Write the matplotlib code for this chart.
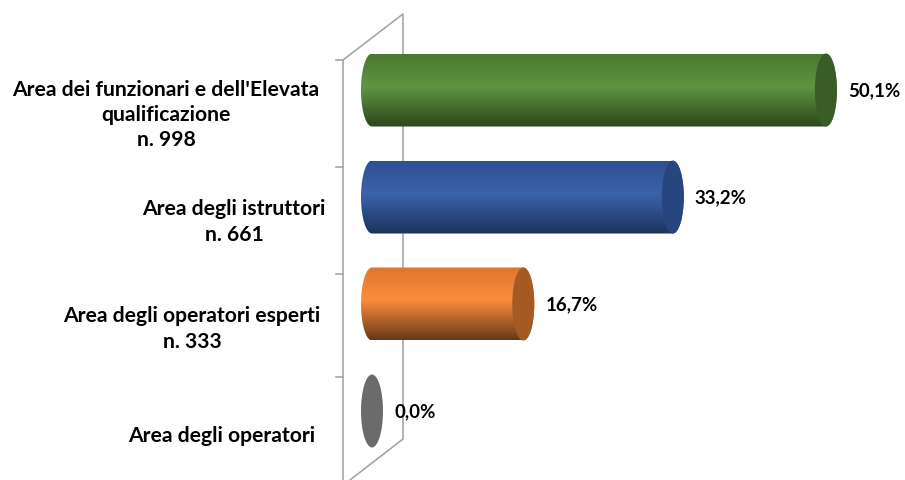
import numpy as np
import matplotlib
matplotlib.use("Agg")
import matplotlib.pyplot as plt
from matplotlib.patches import Ellipse, PathPatch
from matplotlib.path import Path
from matplotlib.colors import LinearSegmentedColormap
from matplotlib.lines import Line2D

plt.rcParams['font.family'] = ['Lato', 'DejaVu Sans']

# --- data -------------------------------------------------------------
categories = [
    "Area dei funzionari e dell'Elevata\nqualificazione\nn. 998",
    "Area degli istruttori\nn. 661",
    "Area degli operatori esperti\nn. 333",
    "Area degli operatori",
]
values = [50.1, 33.2, 16.7, 0.0]
value_labels = ["50,1%", "33,2%", "16,7%", "0,0%"]

# body gradient (top, highlight, bottom) and end-cap colour per bar
body_colors = [
    ("#4a782e", "#5e9542", "#2c461c"),
    ("#2d5092", "#3b63aa", "#1c325c"),
    ("#dc772e", "#fd8c3d", "#643a17"),
    ("#6e6e6e", "#6e6e6e", "#6e6e6e"),
]
cap_colors = ["#3a5d27", "#27457e", "#a55923", "#6b6b6b"]

# --- figure / scales ----------------------------------------------------
W, H = 905, 481
fig = plt.figure(figsize=(W / 100, H / 100), dpi=100)
ax = fig.add_axes([0, 0, 1, 1])
px_per_unit = 9.06          # pixels per percentage point
x0_px = 372                 # pixel of value 0
row0_px, row_step = 91, 107 # pixel of first row centre, row spacing
ax.set_xlim(-x0_px / px_per_unit, (W - x0_px) / px_per_unit)
ax.set_ylim((H - row0_px) / row_step, -row0_px / row_step)
ax.axis("off")

def px(xp, yp):
    """pixel (from top-left) -> data coords"""
    return ((xp - x0_px) / px_per_unit, (yp - row0_px) / row_step)

# --- 3D wall outline -----------------------------------------------------
wall_color = "#a6a6a6"
wall_pts = [px(343, 481), px(343, 61), px(403, 15), px(403, 440), px(350, 481)]
ax.add_line(Line2D([p[0] for p in wall_pts], [p[1] for p in wall_pts],
                   color=wall_color, lw=1.2, zorder=1))
for yp in (61, 168, 275, 378):
    a, b = px(336, yp), px(343, yp)
    ax.add_line(Line2D([a[0], b[0]], [a[1], b[1]], color=wall_color, lw=1.2, zorder=1))

# --- cylinders ---------------------------------------------------------
half_h = 36.5 / row_step        # half bar thickness (data units)
rx = 11 / px_per_unit           # ellipse half-width (data units)

for i, (v, cols, cap) in enumerate(zip(values, body_colors, cap_colors)):
    yc = i
    if v > 0:
        # left half-ellipse from top to bottom, then right half-ellipse bottom to top
        t = np.linspace(np.pi / 2, 3 * np.pi / 2, 40)
        left = np.column_stack([rx * np.cos(t), yc - half_h * np.sin(t)])
        t2 = np.linspace(-np.pi / 2, np.pi / 2, 40)
        right = np.column_stack([v + rx * np.cos(t2), yc - half_h * np.sin(t2)])
        verts = np.vstack([left, right, left[:1]])
        patch = PathPatch(Path(verts), facecolor="none", edgecolor="none", zorder=2)
        ax.add_patch(patch)
        cmap = LinearSegmentedColormap.from_list(
            f"c{i}", [(0, cols[0]), (0.45, cols[1]), (1, cols[2])])
        grad = np.linspace(0, 1, 256).reshape(-1, 1)
        im = ax.imshow(grad, cmap=cmap, aspect="auto",
                       extent=(-rx, v + rx, yc + half_h, yc - half_h),
                       zorder=2, interpolation="bilinear")
        im.set_clip_path(patch)
    ax.add_patch(Ellipse((v, yc), 2 * rx, 2 * half_h, facecolor=cap,
                         edgecolor="none", zorder=3))
    ax.text(v + rx + 11 / px_per_unit, yc, value_labels[i], ha="left", va="center",
            fontsize=13.5, fontweight="bold", color="#000000", zorder=4)

# --- category labels -------------------------------------------------------
label_centers_px = [166, 234, 192, 222]
label_offset = 24 / row_step
for i, (lab, cx) in enumerate(zip(categories, label_centers_px)):
    ax.text((cx - x0_px) / px_per_unit, i + label_offset, lab, ha="center",
            va="center", multialignment="center", fontsize=15.2,
            fontweight="bold", color="#000000", linespacing=1.32)

fig.savefig("out.png", dpi=100)
